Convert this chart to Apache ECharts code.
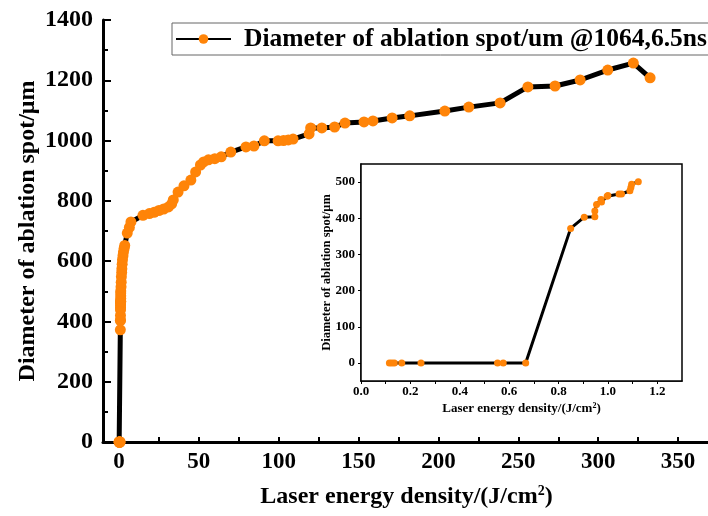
<!DOCTYPE html>
<html>
<head>
<meta charset="utf-8">
<script src="https://cdn.jsdelivr.net/npm/echarts@6/dist/echarts.min.js"></script>
<style>
  html, body { margin: 0; padding: 0; background: #fff; }
</style>
</head>
<body>
<div id="chart" style="width: 708px; height: 516px"></div>
<script>
// inset: low energy region
const insetEnergy = [0.115, 0.125, 0.135, 0.165, 0.243, 0.553, 0.576, 0.667, 0.849, 0.904, 0.947, 0.947, 0.954, 0.972, 0.974, 0.997, 1.0, 1.045, 1.055, 1.089, 1.093, 1.096, 1.123];
const insetDiameter = [0, 0, 0, 0, 0, 0, 0, 0, 372, 403, 404, 420, 438, 452, 445, 461, 463, 467, 467, 476, 485, 494, 501];

// main curve, continues after the inset points
const mainEnergy = [1.3, 1.4, 1.5, 1.7, 1.8, 2.0, 2.2, 2.5, 2.8, 3.2, 3.6, 5.2, 6.5, 7.5, 15, 19, 22, 25, 28, 31, 33, 34, 37, 40.7, 45, 48, 51, 53, 56, 60, 64, 70, 79.5, 84.5, 91, 99.6, 103, 106, 109, 119, 120, 127, 135, 141.5, 153.4, 159, 171, 182, 204, 219, 238.6, 256, 273, 288.7, 306, 322, 332.5];
const mainDiameter = [515, 530, 548, 562, 575, 590, 605, 618, 630, 642, 652, 693, 712, 730, 752, 758, 762, 768, 773, 780, 790, 803, 829, 850, 869, 896, 919, 929, 936, 940, 946, 962, 979, 982, 999, 999, 1000, 1002, 1005, 1022, 1042, 1042, 1045, 1058, 1062, 1065, 1075, 1082, 1098, 1111, 1125, 1178, 1181, 1201, 1234, 1257, 1208];

const xLabels = [0, 50, 100, 150, 200, 250, 300, 350];
const xTicks = [0, 25, 50, 75, 100, 125, 150, 175, 200, 225, 250, 275, 300, 325, 350];
const insetXLabels = [0, 0.2, 0.4, 0.6, 0.8, 1.0, 1.2];
const insetXTicks = [0, 0.1, 0.2, 0.3, 0.4, 0.5, 0.6, 0.7, 0.8, 0.9, 1.0, 1.1, 1.2];
const insetYLabels = [0, 100, 200, 300, 400, 500];

const seriesName = "Diameter of ablation spot/um @1064,6.5ns";
const font = "'Liberation Serif', 'Times New Roman', serif";
const orange = "#ff8408";

const insetData = insetEnergy.map((x, i) => [x, insetDiameter[i]]);
const mainData = insetData.concat(mainEnergy.map((x, i) => [x, mainDiameter[i]]));

const chart = echarts.init(document.getElementById("chart"));
chart.setOption({
  animation: false,
  backgroundColor: "#fff",
  textStyle: { fontFamily: font },
  legend: {
    data: [seriesName],
    left: 172,
    top: 23,
    padding: [3, 40, 3, 3],
    borderColor: "#666",
    borderWidth: 1,
    itemWidth: 55,
    itemHeight: 12,
    itemGap: 10,
    textStyle: { fontFamily: font, fontWeight: "bold", fontSize: 25.5, color: "#000", padding: [0, 0, 0, 8] }
  },
  grid: [
    { left: 103, top: 20, width: 607, height: 422, outerBoundsMode: "none" },
    {
      left: 361, top: 164, width: 321, height: 217, outerBoundsMode: "none",
      show: true, backgroundColor: "#fff", borderColor: "#000", borderWidth: 1.5, z: 5
    }
  ],
  xAxis: [
    {
      type: "value",
      gridIndex: 0,
      min: -10,
      max: 370,
      name: "Laser energy density/(J/cm{sup|2})",
      nameLocation: "middle",
      nameGap: 42,
      nameMoveOverlap: false,
      nameTextStyle: {
        fontFamily: font, fontWeight: "bold", fontSize: 24, color: "#000",
        rich: { sup: { fontFamily: font, fontWeight: "bold", fontSize: 14, verticalAlign: "top", padding: [0, 0, 12, 0] } }
      },
      axisLine: { onZero: false, lineStyle: { color: "#000", width: 3 } },
      axisTick: { inside: true, length: 5, customValues: xTicks, lineStyle: { color: "#000", width: 2 } },
      axisLabel: { customValues: xLabels, margin: 9, color: "#000", fontFamily: font, fontWeight: "bold", fontSize: 23 },
      splitLine: { show: false }
    },
    {
      type: "value",
      gridIndex: 1,
      min: 0,
      max: 1.3,
      name: "Laser energy density/(J/cm{sup|2})",
      nameLocation: "middle",
      nameGap: 21,
      nameMoveOverlap: false,
      nameTextStyle: {
        fontFamily: font, fontWeight: "bold", fontSize: 13, color: "#000",
        rich: { sup: { fontFamily: font, fontWeight: "bold", fontSize: 8, verticalAlign: "top", padding: [0, 0, 6, 0] } }
      },
      axisLine: { onZero: false, lineStyle: { color: "#000", width: 1.5 } },
      axisTick: { length: 3, customValues: insetXTicks, lineStyle: { color: "#000", width: 1 } },
      axisLabel: {
        customValues: insetXLabels, margin: 4, color: "#000", fontFamily: font, fontWeight: "bold", fontSize: 13,
        formatter: (v) => v.toFixed(1)
      },
      splitLine: { show: false }
    }
  ],
  yAxis: [
    {
      type: "value",
      gridIndex: 0,
      min: 0,
      max: 1400,
      interval: 200,
      name: "Diameter of ablation spot/μm",
      nameLocation: "middle",
      nameGap: 63,
      nameMoveOverlap: false,
      nameTextStyle: { fontFamily: font, fontWeight: "bold", fontSize: 24, color: "#000" },
      axisLine: { onZero: false, lineStyle: { color: "#000", width: 3 } },
      axisTick: { inside: true, length: 8, lineStyle: { color: "#000", width: 2 } },
      minorTick: { show: true, splitNumber: 2, length: 5, lineStyle: { color: "#000", width: 2 } },
      axisLabel: {
        margin: 10, color: "#000", fontFamily: font, fontWeight: "bold", fontSize: 24,
        formatter: (v) => String(v)
      },
      splitLine: { show: false }
    },
    {
      type: "value",
      gridIndex: 1,
      min: -50,
      max: 550,
      name: "Diameter of ablation spot/μm",
      nameLocation: "middle",
      nameGap: 28,
      nameMoveOverlap: false,
      nameTextStyle: { fontFamily: font, fontWeight: "bold", fontSize: 12.5, color: "#000" },
      axisLine: { onZero: false, lineStyle: { color: "#000", width: 1.5 } },
      axisTick: { length: 3, customValues: insetYLabels, lineStyle: { color: "#000", width: 1 } },
      axisLabel: {
        customValues: insetYLabels, margin: 6, color: "#000", fontFamily: font, fontWeight: "bold", fontSize: 13,
        formatter: (v) => String(v)
      },
      splitLine: { show: false }
    }
  ],
  series: [
    {
      name: seriesName,
      type: "line",
      xAxisIndex: 0,
      yAxisIndex: 0,
      data: mainData,
      symbol: "circle",
      symbolSize: 11,
      itemStyle: { color: orange },
      lineStyle: { color: "#000", width: 5 },
      z: 3
    },
    {
      name: "inset",
      type: "line",
      xAxisIndex: 1,
      yAxisIndex: 1,
      data: insetData,
      symbol: "circle",
      symbolSize: 7,
      itemStyle: { color: orange },
      lineStyle: { color: "#000", width: 3 },
      z: 6
    }
  ]
});
</script>
</body>
</html>
